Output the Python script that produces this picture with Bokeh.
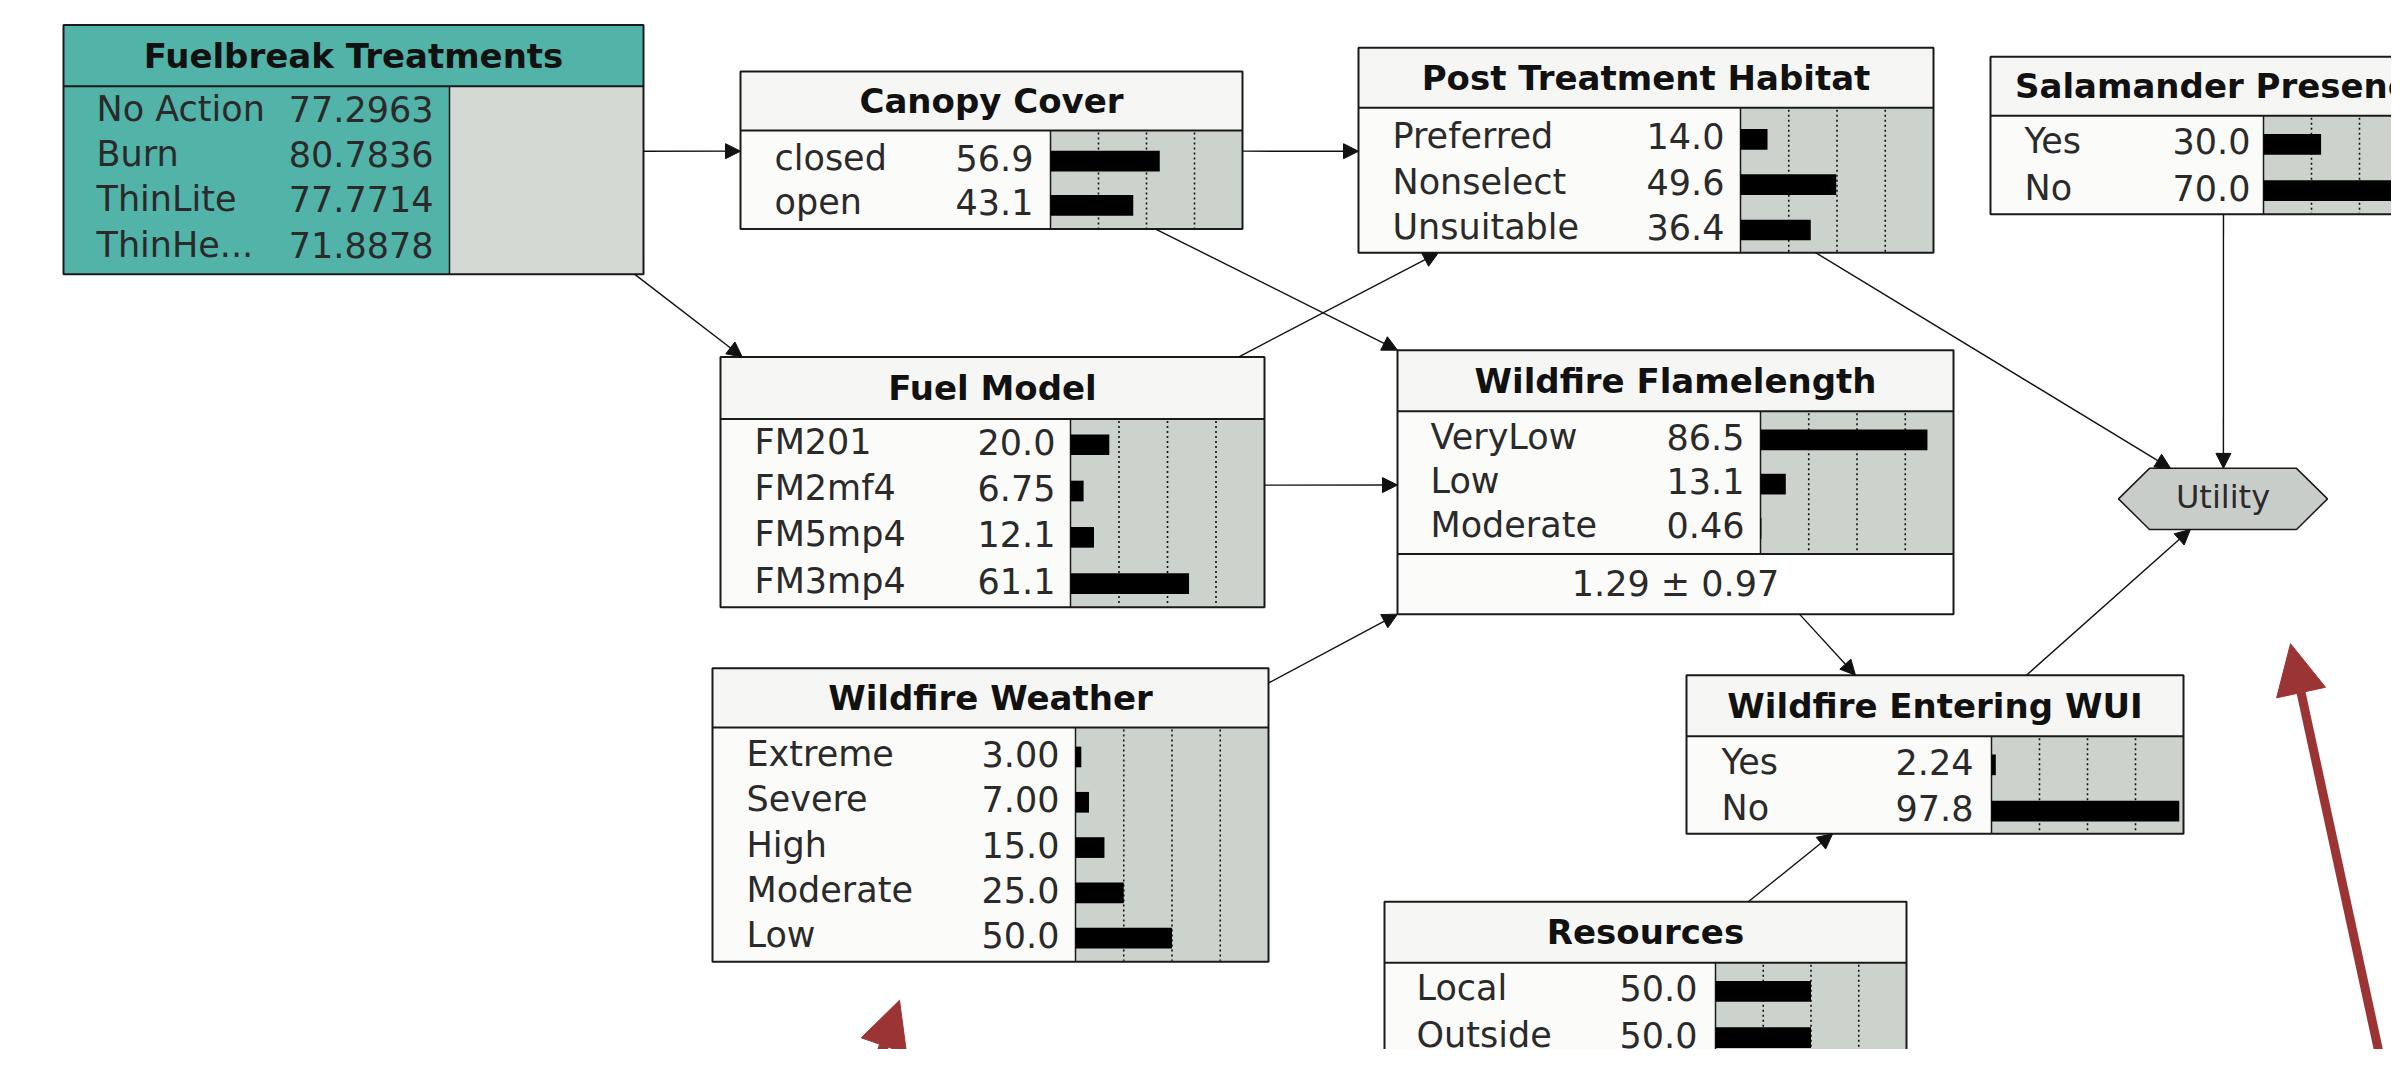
from bokeh.plotting import figure
from bokeh.models import Range1d, ColumnDataSource, Arrow, NormalHead
from bokeh.core.properties import value
from bokeh.embed import file_html
from bokeh.resources import INLINE

# ---------------- data ----------------
fuelbreak_states = ["No Action", "Burn", "ThinLite", "ThinHe..."]
fuelbreak_values = [77.2963, 80.7836, 77.7714, 71.8878]

canopy_states = ["closed", "open"]
canopy_values = [56.9, 43.1]

habitat_states = ["Preferred", "Nonselect", "Unsuitable"]
habitat_values = [14.0, 49.6, 36.4]

salamander_states = ["Yes", "No"]
salamander_values = [30.0, 70.0]

fuel_states = ["FM201", "FM2mf4", "FM5mp4", "FM3mp4"]
fuel_values = [20.0, 6.75, 12.1, 61.1]

flame_states = ["VeryLow", "Low", "Moderate"]
flame_values = [86.5, 13.1, 0.46]
flame_mean = "1.29 ± 0.97"

weather_states = ["Extreme", "Severe", "High", "Moderate", "Low"]
weather_values = [3.00, 7.00, 15.0, 25.0, 50.0]

wui_states = ["Yes", "No"]
wui_values = [2.24, 97.8]

resources_states = ["Local", "Outside"]
resources_values = [50.0, 50.0]

utility_label = "Utility"

# ---------------- layout (reference pixels) ----------------
nodes = {
    "fuelbreak": dict(title="Fuelbreak Treatments", states=fuelbreak_states, values=fuelbreak_values,
                      box=(63, 25, 643, 278), div=87, bar_left=449, lx=96, vx=433, row0=110, step=46, decision=True),
    "canopy": dict(title="Canopy Cover", states=canopy_states, values=canopy_values,
                   box=(740, 72, 1242, 232), div=132, bar_left=1050, lx=774, vx=1033, row0=160, step=45),
    "habitat": dict(title="Post Treatment Habitat", states=habitat_states, values=habitat_values,
                    box=(1358, 48, 1933, 256), div=109, bar_left=1740, lx=1392, vx=1724, row0=138, step=46),
    "salamander": dict(title="Salamander Presence", states=salamander_states, values=salamander_values,
                       box=(1990, 57, 2455, 217), div=117, bar_left=2263, lx=2024, vx=2250, row0=143, step=47),
    "fuel": dict(title="Fuel Model", states=fuel_states, values=fuel_values,
                 box=(720, 362, 1264, 616), div=425, bar_left=1070, lx=754, vx=1055, row0=448, step=47),
    "flame": dict(title="Wildfire Flamelength", states=flame_states, values=flame_values,
                  box=(1397, 355, 1953, 623), div=417, states_bottom=562, bar_left=1760, lx=1430, vx=1744,
                  row0=443, step=45, mean=flame_mean),
    "weather": dict(title="Wildfire Weather", states=weather_states, values=weather_values,
                    box=(712, 678, 1268, 976), div=738, bar_left=1075, lx=746, vx=1059, row0=765, step=46),
    "wui": dict(title="Wildfire Entering WUI", states=wui_states, values=wui_values,
                box=(1686, 685, 2183, 846), div=747, bar_left=1991, lx=1721, vx=1973, row0=773, step=47),
    "resources": dict(title="Resources", states=resources_states, values=resources_values,
                      box=(1384, 915, 1906, 1075), div=977, bar_left=1715, lx=1416, vx=1697, row0=1003, step=47),
}
utility_box = (2118, 475, 2327, 537)

edges = [
    ("fuelbreak", 1.0, 0.506, "canopy", 0.0, 0.506),
    ("fuelbreak", 0.985, 1.0, "fuel", 0.04, 0.0),
    ("canopy", 1.0, 0.506, "habitat", 0.0, 0.505),
    ("canopy", 0.827, 1.0, "flame", 0.0, 0.0),
    ("fuel", 0.952, 0.0, "habitat", 0.139, 1.0),
    ("fuel", 1.0, 0.512, "flame", 0.0, 0.511),
    ("weather", 1.0, 0.05, "flame", 0.0, 1.0),
    ("flame", 0.723, 1.0, "wui", 0.34, 0.0),
    ("resources", 0.697, 0.0, "wui", 0.294, 1.0),
    ("wui", 0.684, 0.0, "utility", 0.344, 1.0),
    ("habitat", 0.795, 1.0, "utility", 0.249, 0.0),
    ("salamander", 0.501, 1.0, "utility", 0.502, 0.0),
]

FONT = value("DejaVu Sans")
TEAL = "#52b3a9"
BAR_BG = "#ccd2cc"
RED = "#9b3434"
TXT = "#2a2a2a"

W, H = 2391, 1049
p = figure(width=W, height=H, output_backend="svg", toolbar_location=None,
           x_range=Range1d(0, W), y_range=Range1d(1065, 0),
           x_axis_location=None, y_axis_location=None, min_border=0)
p.grid.visible = False
p.outline_line_color = None
p.background_fill_color = "white"
p.border_fill_color = "white"


def fmt(v, decision=False):
    if decision:
        return f"{v:.4f}"
    if v >= 10:
        return f"{v:.1f}"
    return f"{v:.2f}"


def anchor(key, fx, fy):
    if key == "utility":
        l, t, r, b = utility_box
    else:
        l, t, r, b = nodes[key]["box"]
    return l + fx * (r - l), t + fy * (b - t)


# ---------- edges (drawn first, under boxes) ----------
for a, fx1, fy1, b, fx2, fy2 in edges:
    x1, y1 = anchor(a, fx1, fy1)
    x2, y2 = anchor(b, fx2, fy2)
    p.add_layout(Arrow(x_start=x1, y_start=y1, x_end=x2, y_end=y2,
                       line_color="#111111", line_width=1.4,
                       end=NormalHead(size=15, fill_color="#111111", line_color="#111111")))

# ---------- nodes ----------
title_src = dict(x=[], y=[], t=[])
label_src = dict(x=[], y=[], t=[])
value_src = dict(x=[], y=[], t=[])
bars = dict(y=[], left=[], right=[])
grid = dict(x0=[], y0=[], x1=[], y1=[])

for key, n in nodes.items():
    l, t, r, b = n["box"]
    div = n["div"]
    sb = n.get("states_bottom", b)
    dec = n.get("decision", False)
    if dec:
        p.quad(left=[l], right=[r], top=[t], bottom=[div], fill_color=TEAL, line_color=None)
        p.quad(left=[l], right=[n["bar_left"]], top=[div], bottom=[b], fill_color=TEAL, line_color=None)
        p.quad(left=[n["bar_left"]], right=[r], top=[div], bottom=[b], fill_color="#d4dad3", line_color=None)
    else:
        p.quad(left=[l], right=[r], top=[t], bottom=[div], fill_color="#f6f6f4", line_color=None)
        p.quad(left=[l], right=[n["bar_left"]], top=[div], bottom=[b], fill_color="#fbfbfa", line_color=None)
        p.quad(left=[n["bar_left"]], right=[r], top=[div], bottom=[sb], fill_color=BAR_BG, line_color=None)
        bw = r - n["bar_left"]
        for f in (0.25, 0.5, 0.75):
            gx = n["bar_left"] + f * bw
            grid["x0"].append(gx); grid["x1"].append(gx)
            grid["y0"].append(div + 2); grid["y1"].append(sb - 1)
        for i, v in enumerate(n["values"]):
            bars["y"].append(n["row0"] + i * n["step"] + 3)
            bars["left"].append(n["bar_left"])
            bars["right"].append(n["bar_left"] + v / 100.0 * bw)
    # outlines
    p.quad(left=[l], right=[r], top=[t], bottom=[b], fill_color=None, line_color="#1a1a1a", line_width=2)
    p.segment(x0=[l], y0=[div], x1=[r], y1=[div], line_color="#1a1a1a", line_width=2)
    p.segment(x0=[n["bar_left"]], y0=[div], x1=[n["bar_left"]], y1=[sb], line_color="#1a1a1a", line_width=1.5)
    if sb != b:
        p.segment(x0=[l], y0=[sb], x1=[r], y1=[sb], line_color="#1a1a1a", line_width=2)
        p.text(x=[(l + r) / 2], y=[(sb + b) / 2], text=[n["mean"]], text_font=FONT,
               text_font_size="35px", text_align="center", text_baseline="middle", text_color=TXT)
    title_src["x"].append((l + r) / 2)
    title_src["y"].append((t + div) / 2)
    title_src["t"].append(n["title"])
    for i, (s, v) in enumerate(zip(n["states"], n["values"])):
        yy = n["row0"] + i * n["step"]
        label_src["x"].append(n["lx"]); label_src["y"].append(yy); label_src["t"].append(s)
        value_src["x"].append(n["vx"]); value_src["y"].append(yy); value_src["t"].append(fmt(v, dec))

p.segment(x0="x0", y0="y0", x1="x1", y1="y1", source=ColumnDataSource(grid),
          line_color="#111111", line_width=1.6, line_dash="2 3")
p.hbar(y="y", left="left", right="right", height=21, source=ColumnDataSource(bars),
       fill_color="#000000", line_color=None)

p.text(x="x", y="y", text="t", source=ColumnDataSource(title_src), text_font=FONT,
       text_font_style="bold", text_font_size="34px", text_align="center",
       text_baseline="middle", text_color="#111111")
p.text(x="x", y="y", text="t", source=ColumnDataSource(label_src), text_font=FONT,
       text_font_size="35px", text_align="left", text_baseline="middle", text_color=TXT)
p.text(x="x", y="y", text="t", source=ColumnDataSource(value_src), text_font=FONT,
       text_font_size="35px", text_align="right", text_baseline="middle", text_color=TXT)

# ---------- utility node ----------
ul, ut, ur, ub = utility_box
notch = (ub - ut) / 2
p.patch(x=[ul, ul + notch, ur - notch, ur, ur - notch, ul + notch],
        y=[(ut + ub) / 2, ut, ut, (ut + ub) / 2, ub, ub],
        fill_color="#c9cdc9", line_color="#1a1a1a", line_width=1.5)
p.text(x=[(ul + ur) / 2], y=[(ut + ub) / 2 - 2], text=[utility_label], text_font=FONT,
       text_font_size="32px", text_align="center", text_baseline="middle", text_color=TXT)

# ---------- red annotation arrows ----------
p.add_layout(Arrow(x_start=877, y_start=1080, x_end=899, y_end=1015, line_color=RED, line_width=10,
                   end=NormalHead(size=48, fill_color=RED, line_color=RED)))
p.add_layout(Arrow(x_start=2381, y_start=1080, x_end=2290, y_end=653, line_color=RED, line_width=9,
                   end=NormalHead(size=50, fill_color=RED, line_color=RED)))

open("out.html", "w").write(file_html(p, INLINE))
